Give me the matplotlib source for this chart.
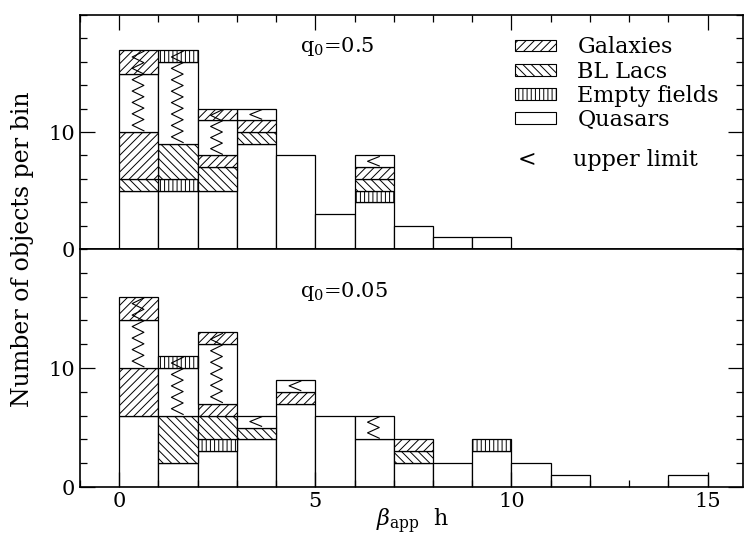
import numpy as np
import matplotlib
matplotlib.use("Agg")
import matplotlib.pyplot as plt
from matplotlib.patches import Patch
from matplotlib.ticker import MultipleLocator

plt.rcParams['font.family'] = ['DejaVu Serif']
plt.rcParams['mathtext.fontset'] = 'dejavuserif'
plt.rcParams['hatch.linewidth'] = 0.7

# bin left edges (width 1 in beta_app h)
bins = np.arange(15)

# q0 = 0.5 (top panel), counts per bin
top_q = [5, 5, 5, 9, 8, 3, 4, 2, 1, 1, 0, 0, 0, 0, 0]
top_ef = [0, 1, 0, 0, 0, 0, 1, 0, 0, 0, 0, 0, 0, 0, 0]
top_bl = [1, 3, 2, 1, 0, 0, 1, 0, 0, 0, 0, 0, 0, 0, 0]
top_gal = [4, 0, 1, 1, 0, 0, 1, 0, 0, 0, 0, 0, 0, 0, 0]
top_q_ul = [5, 7, 3, 1, 0, 0, 1, 0, 0, 0, 0, 0, 0, 0, 0]
top_ef_ul = [0, 1, 0, 0, 0, 0, 0, 0, 0, 0, 0, 0, 0, 0, 0]
top_gal_ul = [2, 0, 1, 0, 0, 0, 0, 0, 0, 0, 0, 0, 0, 0, 0]

# q0 = 0.05 (bottom panel)
bot_q = [6, 2, 3, 4, 7, 6, 4, 2, 2, 3, 2, 1, 0, 0, 1]
bot_ef = [0, 0, 1, 0, 0, 0, 0, 0, 0, 1, 0, 0, 0, 0, 0]
bot_bl = [0, 4, 2, 1, 0, 0, 0, 1, 0, 0, 0, 0, 0, 0, 0]
bot_gal = [4, 0, 1, 0, 1, 0, 0, 1, 0, 0, 0, 0, 0, 0, 0]
bot_q_ul = [4, 4, 5, 1, 1, 0, 2, 0, 0, 0, 0, 0, 0, 0, 0]
bot_ef_ul = [0, 1, 0, 0, 0, 0, 0, 0, 0, 0, 0, 0, 0, 0, 0]
bot_gal_ul = [2, 0, 1, 0, 0, 0, 0, 0, 0, 0, 0, 0, 0, 0, 0]

HATCH = {'gal': '////', 'bl': '\\\\\\\\', 'ef': '||||', 'q': ''}


def draw_panel(ax, q, ef, bl, gal, q_ul, ef_ul, gal_ul, label, label_y):
    layers = [(q, 'q'), (ef, 'ef'), (bl, 'bl'), (gal, 'gal'),
              (q_ul, 'q'), (ef_ul, 'ef'), (gal_ul, 'gal')]
    bottom = np.zeros(len(bins))
    for vals, kind in layers:
        vals = np.asarray(vals, dtype=float)
        m = vals > 0
        ax.bar(bins[m], vals[m], width=1.0, bottom=bottom[m], align='edge',
               facecolor='white', edgecolor='black', linewidth=0.9,
               hatch=HATCH[kind])
        bottom += vals

    # upper-limit chains of '<'
    det = np.asarray(q) + np.asarray(ef) + np.asarray(bl) + np.asarray(gal)
    n_ul = np.asarray(q_ul) + np.asarray(ef_ul) + np.asarray(gal_ul)
    for b, y0, n in zip(bins, det, n_ul):
        if n == 0:
            continue
        xc = b + 0.48
        ys = y0 + n - 0.5 * np.arange(2 * n + 1)
        xs = np.where(np.arange(2 * n + 1) % 2 == 0, xc + 0.15, xc - 0.15)
        # keep the chain inside the segment
        ys = y0 + 0.1 + (ys - y0) * (n - 0.2) / n
        ax.plot(xs, ys, color='black', lw=0.8)

    ax.text(4.6, label_y, label, fontsize=15, va='center', ha='left')
    ax.set_xlim(-1, 15.9)
    ax.set_ylim(0, 20)
    ax.set_yticks([0, 10])
    ax.yaxis.set_minor_locator(MultipleLocator(2))
    ax.xaxis.set_major_locator(MultipleLocator(5))
    ax.xaxis.set_minor_locator(MultipleLocator(1))
    ax.tick_params(which='both', direction='in', right=True, labelsize=15)
    ax.tick_params(which='major', length=11, width=0.9)
    ax.tick_params(which='minor', length=5, width=0.9)
    for s in ax.spines.values():
        s.set_linewidth(1.2)


fig = plt.figure(figsize=(7.44, 5.36), dpi=100)
ax1 = fig.add_axes([0.1075, 0.5354, 0.891, 0.4366])
ax2 = fig.add_axes([0.1075, 0.0914, 0.891, 0.444])

draw_panel(ax1, top_q, top_ef, top_bl, top_gal, top_q_ul, top_ef_ul, top_gal_ul,
           r'q$_0$=0.5', 17.3)
draw_panel(ax2, bot_q, bot_ef, bot_bl, bot_gal, bot_q_ul, bot_ef_ul, bot_gal_ul,
           r'q$_0$=0.05', 16.4)

ax1.tick_params(which='both', top=True, bottom=False, labelbottom=False)
ax2.tick_params(which='both', top=False, bottom=True)

handles = [Patch(facecolor='white', edgecolor='black', hatch='////', lw=0.8, label='Galaxies'),
           Patch(facecolor='white', edgecolor='black', hatch='\\\\\\\\', lw=0.8, label='BL Lacs'),
           Patch(facecolor='white', edgecolor='black', hatch='||||', lw=0.8, label='Empty fields'),
           Patch(facecolor='white', edgecolor='black', lw=0.8, label='Quasars')]
ax1.legend(handles=handles, loc='upper left', bbox_to_anchor=(0.633, 0.975),
           frameon=False, fontsize=16, handlelength=1.85, handleheight=0.45,
           handletextpad=0.95, labelspacing=0.1, borderaxespad=0.3)
ax1.text(0.674, 0.38, '<', transform=ax1.transAxes, fontsize=16, ha='center', va='center')
ax1.text(0.744, 0.38, 'upper limit', transform=ax1.transAxes, fontsize=16, ha='left', va='center')

fig.text(0.03, 0.535, 'Number of objects per bin', rotation=90, fontsize=17,
         ha='center', va='center')
fig.text(0.555, 0.028, r'$\beta_{\rm app}$  h', fontsize=16, ha='center', va='center')

fig.savefig('out.png', dpi=100)
